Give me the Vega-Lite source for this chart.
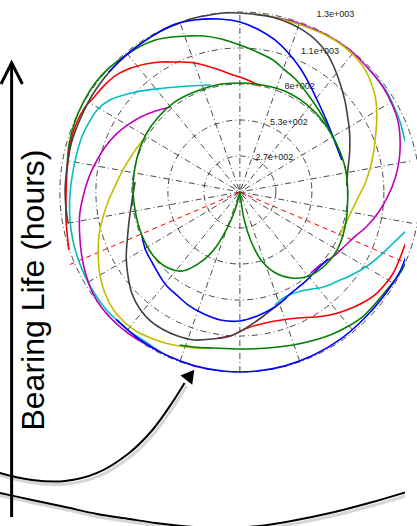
{
"$schema":"https://vega.github.io/schema/vega-lite/v6.json",
"width":417,"height":526,
"autosize":{"type":"fit","contains":"padding"},
"padding":0,
"background":"white",
"config":{"view":{"stroke":null}},
"datasets":{
"rings":[{"x":0,"y":0,"r":266.67},{"x":0,"y":0,"r":533.33},{"x":0,"y":0,"r":800},{"x":0,"y":0,"r":1066.67},{"x":0,"y":0,"r":1333.33}],
"spokes":[
{"x":-1313,"y":-231.5,"x2":1313,"y2":231.5},
{"x":-1154.7,"y":-666.7,"x2":1154.7,"y2":666.7},
{"x":-857,"y":-1021.4,"x2":857,"y2":1021.4},
{"x":-456,"y":-1252.9,"x2":456,"y2":1252.9},
{"x":0,"y":-1333.3,"x2":0,"y2":1333.3},
{"x":456,"y":-1252.9,"x2":-456,"y2":1252.9},
{"x":857,"y":-1021.4,"x2":-857,"y2":1021.4},
{"x":1154.7,"y":-666.7,"x2":-1154.7,"y2":666.7},
{"x":1313,"y":-231.5,"x2":-1313,"y2":231.5}],
"zone":[{"x":0,"y":0,"x2":-1328,"y2":-550},{"x":0,"y":0,"x2":1328,"y2":-550}],
"labels":[{"label":"2.7e+002","x":119,"y":259},{"label":"5.3e+002","x":230,"y":519},{"label":"8e+002","x":341,"y":785},{"label":"1.1e+003","x":467,"y":1044},{"label":"1.3e+003","x":585,"y":1319}],
"curves":[
{"c":"cy","s":"C1","i":0,"x":-222,"y":793},{"c":"cy","s":"C1","i":1,"x":-385,"y":785},{"c":"cy","s":"C1","i":2,"x":-570,"y":770},{"c":"cy","s":"C1","i":3,"x":-793,"y":741},{"c":"cy","s":"C1","i":4,"x":-993,"y":681},{"c":"cy","s":"C1","i":5,"x":-1089,"y":607},{"c":"cy","s":"C1","i":6,"x":-1141,"y":533},{"c":"cy","s":"C1","i":7,"x":-1200,"y":422},{"c":"cy","s":"C1","i":8,"x":-1237,"y":311},{"c":"cy","s":"C1","i":9,"x":-1274,"y":148},{"c":"cy","s":"C1","i":10,"x":-1296,"y":-22},{"c":"cy","s":"C1","i":11,"x":-1296,"y":-207},{"c":"cy","s":"C1","i":12,"x":-1274,"y":-356},{"c":"cy","s":"C1","i":13,"x":-1237,"y":-489},{"c":"cy","s":"C1","i":14,"x":-1178,"y":-630},{"c":"cy","s":"C1","i":15,"x":-1111,"y":-748},{"c":"cy","s":"C1","i":16,"x":-1030,"y":-859},{"c":"cy","s":"C1","i":17,"x":-941,"y":-948},{"c":"cy","s":"C1","i":18,"x":-844,"y":-1030},{"c":"cy","s":"C1","i":19,"x":-741,"y":-1096},{"c":"cy","s":"C1","i":20,"x":-630,"y":-1170},
{"c":"cy","s":"C2","i":0,"x":267,"y":-837},{"c":"cy","s":"C2","i":1,"x":319,"y":-793},{"c":"cy","s":"C2","i":2,"x":393,"y":-756},{"c":"cy","s":"C2","i":3,"x":504,"y":-726},{"c":"cy","s":"C2","i":4,"x":637,"y":-704},{"c":"cy","s":"C2","i":5,"x":748,"y":-659},{"c":"cy","s":"C2","i":6,"x":852,"y":-615},{"c":"cy","s":"C2","i":7,"x":970,"y":-548},{"c":"cy","s":"C2","i":8,"x":1074,"y":-467},{"c":"cy","s":"C2","i":9,"x":1163,"y":-385},{"c":"cy","s":"C2","i":10,"x":1259,"y":-296},{"c":"cy","s":"C2","i":11,"x":1326,"y":-237},
{"c":"cy","s":"C3","i":0,"x":1326,"y":200},{"c":"cy","s":"C3","i":1,"x":1259,"y":385},{"c":"cy","s":"C3","i":2,"x":1222,"y":519},{"c":"cy","s":"C3","i":3,"x":1170,"y":644},{"c":"cy","s":"C3","i":4,"x":1111,"y":756},{"c":"cy","s":"C3","i":5,"x":1044,"y":844},{"c":"cy","s":"C3","i":6,"x":970,"y":926},
{"c":"mg","s":"M1","i":0,"x":-533,"y":630},{"c":"mg","s":"M1","i":1,"x":-644,"y":600},{"c":"mg","s":"M1","i":2,"x":-756,"y":556},{"c":"mg","s":"M1","i":3,"x":-844,"y":504},{"c":"mg","s":"M1","i":4,"x":-941,"y":430},{"c":"mg","s":"M1","i":5,"x":-1022,"y":341},{"c":"mg","s":"M1","i":6,"x":-1089,"y":237},{"c":"mg","s":"M1","i":7,"x":-1148,"y":119},{"c":"mg","s":"M1","i":8,"x":-1193,"y":-22},{"c":"mg","s":"M1","i":9,"x":-1222,"y":-170},{"c":"mg","s":"M1","i":10,"x":-1222,"y":-319},{"c":"mg","s":"M1","i":11,"x":-1207,"y":-467},{"c":"mg","s":"M1","i":12,"x":-1178,"y":-600},{"c":"mg","s":"M1","i":13,"x":-1126,"y":-741},{"c":"mg","s":"M1","i":14,"x":-1052,"y":-859},{"c":"mg","s":"M1","i":15,"x":-956,"y":-963},{"c":"mg","s":"M1","i":16,"x":-844,"y":-1052},{"c":"mg","s":"M1","i":17,"x":-719,"y":-1126},{"c":"mg","s":"M1","i":18,"x":-607,"y":-1185},
{"c":"mg","s":"M2","i":0,"x":541,"y":-600},{"c":"mg","s":"M2","i":1,"x":593,"y":-556},{"c":"mg","s":"M2","i":2,"x":659,"y":-511},{"c":"mg","s":"M2","i":3,"x":726,"y":-467},{"c":"mg","s":"M2","i":4,"x":800,"y":-400},{"c":"mg","s":"M2","i":5,"x":874,"y":-333},{"c":"mg","s":"M2","i":6,"x":963,"y":-259},{"c":"mg","s":"M2","i":7,"x":1059,"y":-148},{"c":"mg","s":"M2","i":8,"x":1133,"y":-22},{"c":"mg","s":"M2","i":9,"x":1185,"y":104},{"c":"mg","s":"M2","i":10,"x":1215,"y":237},{"c":"mg","s":"M2","i":11,"x":1222,"y":385},{"c":"mg","s":"M2","i":12,"x":1207,"y":519},{"c":"mg","s":"M2","i":13,"x":1163,"y":644},{"c":"mg","s":"M2","i":14,"x":1096,"y":770},{"c":"mg","s":"M2","i":15,"x":1022,"y":867},{"c":"mg","s":"M2","i":16,"x":933,"y":963},{"c":"mg","s":"M2","i":17,"x":837,"y":1052},{"c":"mg","s":"M2","i":18,"x":726,"y":1126},{"c":"mg","s":"M2","i":19,"x":615,"y":1185},{"c":"mg","s":"M2","i":20,"x":504,"y":1230},{"c":"mg","s":"M2","i":21,"x":393,"y":1267},{"c":"mg","s":"M2","i":22,"x":244,"y":1296},
{"c":"yl","s":"Y1","i":0,"x":-719,"y":407},{"c":"yl","s":"Y1","i":1,"x":-770,"y":348},{"c":"yl","s":"Y1","i":2,"x":-822,"y":274},{"c":"yl","s":"Y1","i":3,"x":-881,"y":185},{"c":"yl","s":"Y1","i":4,"x":-941,"y":67},{"c":"yl","s":"Y1","i":5,"x":-1000,"y":-59},{"c":"yl","s":"Y1","i":6,"x":-1044,"y":-185},{"c":"yl","s":"Y1","i":7,"x":-1074,"y":-319},{"c":"yl","s":"Y1","i":8,"x":-1081,"y":-467},{"c":"yl","s":"Y1","i":9,"x":-1067,"y":-615},{"c":"yl","s":"Y1","i":10,"x":-1030,"y":-748},{"c":"yl","s":"Y1","i":11,"x":-963,"y":-874},{"c":"yl","s":"Y1","i":12,"x":-881,"y":-963},{"c":"yl","s":"Y1","i":13,"x":-793,"y":-1030},{"c":"yl","s":"Y1","i":14,"x":-681,"y":-1081},{"c":"yl","s":"Y1","i":15,"x":-570,"y":-1118},{"c":"yl","s":"Y1","i":16,"x":-459,"y":-1141},{"c":"yl","s":"Y1","i":17,"x":-348,"y":-1156},{"c":"yl","s":"Y1","i":18,"x":-237,"y":-1156},
{"c":"yl","s":"Y2","i":0,"x":763,"y":-311},{"c":"yl","s":"Y2","i":1,"x":815,"y":-215},{"c":"yl","s":"Y2","i":2,"x":859,"y":-126},{"c":"yl","s":"Y2","i":3,"x":904,"y":-37},{"c":"yl","s":"Y2","i":4,"x":956,"y":67},{"c":"yl","s":"Y2","i":5,"x":1000,"y":200},{"c":"yl","s":"Y2","i":6,"x":1022,"y":311},{"c":"yl","s":"Y2","i":7,"x":1037,"y":437},{"c":"yl","s":"Y2","i":8,"x":1044,"y":548},{"c":"yl","s":"Y2","i":9,"x":1037,"y":681},{"c":"yl","s":"Y2","i":10,"x":1007,"y":793},{"c":"yl","s":"Y2","i":11,"x":956,"y":904},{"c":"yl","s":"Y2","i":12,"x":881,"y":1000},{"c":"yl","s":"Y2","i":13,"x":778,"y":1089},{"c":"yl","s":"Y2","i":14,"x":652,"y":1163},{"c":"yl","s":"Y2","i":15,"x":526,"y":1215},{"c":"yl","s":"Y2","i":16,"x":393,"y":1259},{"c":"yl","s":"Y2","i":17,"x":244,"y":1296},{"c":"yl","s":"Y2","i":18,"x":111,"y":1318},
{"c":"g1","s":"G1","i":0,"x":-1318,"y":163},{"c":"g1","s":"G1","i":1,"x":-1304,"y":348},{"c":"g1","s":"G1","i":2,"x":-1259,"y":519},{"c":"g1","s":"G1","i":3,"x":-1193,"y":667},{"c":"g1","s":"G1","i":4,"x":-1104,"y":807},{"c":"g1","s":"G1","i":5,"x":-1000,"y":918},{"c":"g1","s":"G1","i":6,"x":-889,"y":1000},{"c":"g1","s":"G1","i":7,"x":-770,"y":1074},{"c":"g1","s":"G1","i":8,"x":-644,"y":1126},{"c":"g1","s":"G1","i":9,"x":-518,"y":1148},{"c":"g1","s":"G1","i":10,"x":-400,"y":1156},{"c":"g1","s":"G1","i":11,"x":-274,"y":1156},{"c":"g1","s":"G1","i":12,"x":-141,"y":1133},{"c":"g1","s":"G1","i":13,"x":22,"y":1081},{"c":"g1","s":"G1","i":14,"x":148,"y":1030},{"c":"g1","s":"G1","i":15,"x":252,"y":978},{"c":"g1","s":"G1","i":16,"x":341,"y":904},{"c":"g1","s":"G1","i":17,"x":430,"y":830},{"c":"g1","s":"G1","i":18,"x":504,"y":741},{"c":"g1","s":"G1","i":19,"x":615,"y":585},{"c":"g1","s":"G1","i":20,"x":711,"y":407},{"c":"g1","s":"G1","i":21,"x":778,"y":237},
{"c":"g1","s":"G2","i":0,"x":-459,"y":-1133},{"c":"g1","s":"G2","i":1,"x":-348,"y":-1148},{"c":"g1","s":"G2","i":2,"x":-200,"y":-1156},{"c":"g1","s":"G2","i":3,"x":0,"y":-1163},{"c":"g1","s":"G2","i":4,"x":207,"y":-1156},{"c":"g1","s":"G2","i":5,"x":444,"y":-1126},{"c":"g1","s":"G2","i":6,"x":689,"y":-1059},{"c":"g1","s":"G2","i":7,"x":815,"y":-1000},{"c":"g1","s":"G2","i":8,"x":933,"y":-926},{"c":"g1","s":"G2","i":9,"x":1037,"y":-822},{"c":"g1","s":"G2","i":10,"x":1133,"y":-711},{"c":"g1","s":"G2","i":11,"x":1200,"y":-630},{"c":"g1","s":"G2","i":12,"x":1262,"y":-530},{"c":"g1","s":"G2","i":13,"x":1315,"y":-420},
{"c":"rd","s":"R1","i":0,"x":-1304,"y":-430},{"c":"rd","s":"R1","i":1,"x":-1326,"y":-207},{"c":"rd","s":"R1","i":2,"x":-1326,"y":-22},{"c":"rd","s":"R1","i":3,"x":-1318,"y":163},{"c":"rd","s":"R1","i":4,"x":-1296,"y":348},{"c":"rd","s":"R1","i":5,"x":-1252,"y":496},{"c":"rd","s":"R1","i":6,"x":-1185,"y":622},{"c":"rd","s":"R1","i":7,"x":-1111,"y":704},{"c":"rd","s":"R1","i":8,"x":-1030,"y":793},{"c":"rd","s":"R1","i":9,"x":-941,"y":867},{"c":"rd","s":"R1","i":10,"x":-830,"y":918},{"c":"rd","s":"R1","i":11,"x":-719,"y":948},{"c":"rd","s":"R1","i":12,"x":-607,"y":963},{"c":"rd","s":"R1","i":13,"x":-496,"y":963},{"c":"rd","s":"R1","i":14,"x":-348,"y":956},{"c":"rd","s":"R1","i":15,"x":-200,"y":918},{"c":"rd","s":"R1","i":16,"x":-52,"y":867},{"c":"rd","s":"R1","i":17,"x":59,"y":830},{"c":"rd","s":"R1","i":18,"x":156,"y":785},
{"c":"rd","s":"R2","i":0,"x":-163,"y":-1081},{"c":"rd","s":"R2","i":1,"x":-74,"y":-1067},{"c":"rd","s":"R2","i":2,"x":59,"y":-1007},{"c":"rd","s":"R2","i":3,"x":193,"y":-970},{"c":"rd","s":"R2","i":4,"x":319,"y":-948},{"c":"rd","s":"R2","i":5,"x":444,"y":-933},{"c":"rd","s":"R2","i":6,"x":578,"y":-926},{"c":"rd","s":"R2","i":7,"x":689,"y":-911},{"c":"rd","s":"R2","i":8,"x":815,"y":-874},{"c":"rd","s":"R2","i":9,"x":933,"y":-822},{"c":"rd","s":"R2","i":10,"x":1037,"y":-756},{"c":"rd","s":"R2","i":11,"x":1111,"y":-680},{"c":"rd","s":"R2","i":12,"x":1170,"y":-600},{"c":"rd","s":"R2","i":13,"x":1215,"y":-504},{"c":"rd","s":"R2","i":14,"x":1259,"y":-393},{"c":"rd","s":"R2","i":15,"x":1304,"y":-296},
{"c":"bk","s":"K1","i":0,"x":815,"y":44},{"c":"bk","s":"K1","i":1,"x":822,"y":148},{"c":"bk","s":"K1","i":2,"x":837,"y":296},{"c":"bk","s":"K1","i":3,"x":837,"y":437},{"c":"bk","s":"K1","i":4,"x":822,"y":556},{"c":"bk","s":"K1","i":5,"x":800,"y":681},{"c":"bk","s":"K1","i":6,"x":763,"y":807},{"c":"bk","s":"K1","i":7,"x":711,"y":941},{"c":"bk","s":"K1","i":8,"x":652,"y":1044},{"c":"bk","s":"K1","i":9,"x":578,"y":1126},{"c":"bk","s":"K1","i":10,"x":489,"y":1193},{"c":"bk","s":"K1","i":11,"x":393,"y":1244},{"c":"bk","s":"K1","i":12,"x":244,"y":1296},{"c":"bk","s":"K1","i":13,"x":96,"y":1318},{"c":"bk","s":"K1","i":14,"x":0,"y":1326},{"c":"bk","s":"K1","i":15,"x":-126,"y":1326},{"c":"bk","s":"K1","i":16,"x":-230,"y":1311},{"c":"bk","s":"K1","i":17,"x":-348,"y":1289},{"c":"bk","s":"K1","i":18,"x":-459,"y":1252},{"c":"bk","s":"K1","i":19,"x":-570,"y":1207},{"c":"bk","s":"K1","i":20,"x":-667,"y":1156},{"c":"bk","s":"K1","i":21,"x":-770,"y":1089},{"c":"bk","s":"K1","i":22,"x":-859,"y":1022},{"c":"bk","s":"K1","i":23,"x":-948,"y":941},{"c":"bk","s":"K1","i":24,"x":-1022,"y":859},{"c":"bk","s":"K1","i":25,"x":-1096,"y":763},{"c":"bk","s":"K1","i":26,"x":-1156,"y":667},{"c":"bk","s":"K1","i":27,"x":-1207,"y":563},{"c":"bk","s":"K1","i":28,"x":-1252,"y":459},{"c":"bk","s":"K1","i":29,"x":-1289,"y":348},{"c":"bk","s":"K1","i":30,"x":-1311,"y":230},{"c":"bk","s":"K1","i":31,"x":-1326,"y":119},{"c":"bk","s":"K1","i":32,"x":-1333,"y":0},{"c":"bk","s":"K1","i":33,"x":-1326,"y":-119},{"c":"bk","s":"K1","i":34,"x":-1311,"y":-230},
{"c":"bk","s":"K2","i":0,"x":-800,"y":74},{"c":"bk","s":"K2","i":1,"x":-822,"y":-59},{"c":"bk","s":"K2","i":2,"x":-844,"y":-207},{"c":"bk","s":"K2","i":3,"x":-859,"y":-356},{"c":"bk","s":"K2","i":4,"x":-867,"y":-489},{"c":"bk","s":"K2","i":5,"x":-852,"y":-630},{"c":"bk","s":"K2","i":6,"x":-822,"y":-756},{"c":"bk","s":"K2","i":7,"x":-763,"y":-867},{"c":"bk","s":"K2","i":8,"x":-681,"y":-956},{"c":"bk","s":"K2","i":9,"x":-593,"y":-1015},{"c":"bk","s":"K2","i":10,"x":-474,"y":-1067},{"c":"bk","s":"K2","i":11,"x":-348,"y":-1096},{"c":"bk","s":"K2","i":12,"x":-215,"y":-1089},{"c":"bk","s":"K2","i":13,"x":-74,"y":-1067},{"c":"bk","s":"K2","i":14,"x":59,"y":-1000},{"c":"bk","s":"K2","i":15,"x":170,"y":-926},{"c":"bk","s":"K2","i":16,"x":267,"y":-852},{"c":"bk","s":"K2","i":17,"x":356,"y":-785},
{"c":"bl","s":"B1","i":0,"x":778,"y":237},{"c":"bl","s":"B1","i":1,"x":711,"y":407},{"c":"bl","s":"B1","i":2,"x":659,"y":533},{"c":"bl","s":"B1","i":3,"x":600,"y":659},{"c":"bl","s":"B1","i":4,"x":526,"y":807},{"c":"bl","s":"B1","i":5,"x":459,"y":918},{"c":"bl","s":"B1","i":6,"x":370,"y":1030},{"c":"bl","s":"B1","i":7,"x":267,"y":1126},{"c":"bl","s":"B1","i":8,"x":148,"y":1200},{"c":"bl","s":"B1","i":9,"x":0,"y":1259},{"c":"bl","s":"B1","i":10,"x":-163,"y":1281},{"c":"bl","s":"B1","i":11,"x":-348,"y":1274},{"c":"bl","s":"B1","i":12,"x":-511,"y":1237},{"c":"bl","s":"B1","i":13,"x":-667,"y":1156},{"c":"bl","s":"B1","i":14,"x":-859,"y":1022},{"c":"bl","s":"B1","i":15,"x":-1000,"y":889},
{"c":"bl","s":"B2","i":0,"x":-943,"y":-943},{"c":"bl","s":"B2","i":1,"x":-765,"y":-1092},{"c":"bl","s":"B2","i":2,"x":-563,"y":-1208},{"c":"bl","s":"B2","i":3,"x":-345,"y":-1288},{"c":"bl","s":"B2","i":4,"x":-116,"y":-1328},{"c":"bl","s":"B2","i":5,"x":116,"y":-1328},{"c":"bl","s":"B2","i":6,"x":345,"y":-1288},{"c":"bl","s":"B2","i":7,"x":563,"y":-1208},{"c":"bl","s":"B2","i":8,"x":765,"y":-1092},{"c":"bl","s":"B2","i":9,"x":943,"y":-943},{"c":"bl","s":"B2","i":10,"x":1092,"y":-778},{"c":"bl","s":"B2","i":11,"x":1215,"y":-600},{"c":"bl","s":"B2","i":12,"x":1270,"y":-470},{"c":"bl","s":"B2","i":13,"x":1320,"y":-330},
{"c":"bl","s":"B3","i":0,"x":-748,"y":-319},{"c":"bl","s":"B3","i":1,"x":-719,"y":-430},{"c":"bl","s":"B3","i":2,"x":-667,"y":-526},{"c":"bl","s":"B3","i":3,"x":-570,"y":-681},{"c":"bl","s":"B3","i":4,"x":-474,"y":-770},{"c":"bl","s":"B3","i":5,"x":-385,"y":-844},{"c":"bl","s":"B3","i":6,"x":-274,"y":-904},{"c":"bl","s":"B3","i":7,"x":-148,"y":-948},{"c":"bl","s":"B3","i":8,"x":0,"y":-956},{"c":"bl","s":"B3","i":9,"x":133,"y":-918},{"c":"bl","s":"B3","i":10,"x":267,"y":-852},{"c":"bl","s":"B3","i":11,"x":393,"y":-748},{"c":"bl","s":"B3","i":12,"x":504,"y":-659},{"c":"bl","s":"B3","i":13,"x":593,"y":-570},{"c":"bl","s":"B3","i":14,"x":674,"y":-496},
{"c":"g2","s":"G3","i":0,"x":0,"y":0},{"c":"g2","s":"G3","i":1,"x":30,"y":-193},{"c":"g2","s":"G3","i":2,"x":81,"y":-356},{"c":"g2","s":"G3","i":3,"x":156,"y":-496},{"c":"g2","s":"G3","i":4,"x":259,"y":-593},{"c":"g2","s":"G3","i":5,"x":393,"y":-637},{"c":"g2","s":"G3","i":6,"x":526,"y":-622},{"c":"g2","s":"G3","i":7,"x":644,"y":-548},{"c":"g2","s":"G3","i":8,"x":741,"y":-430},{"c":"g2","s":"G3","i":9,"x":800,"y":-267},{"c":"g2","s":"G3","i":10,"x":822,"y":-59},{"c":"g2","s":"G3","i":11,"x":807,"y":163},{"c":"g2","s":"G3","i":12,"x":741,"y":348},{"c":"g2","s":"G3","i":13,"x":637,"y":519},{"c":"g2","s":"G3","i":14,"x":504,"y":652},{"c":"g2","s":"G3","i":15,"x":341,"y":748},{"c":"g2","s":"G3","i":16,"x":170,"y":793},{"c":"g2","s":"G3","i":17,"x":0,"y":807},{"c":"g2","s":"G3","i":18,"x":-178,"y":793},{"c":"g2","s":"G3","i":19,"x":-348,"y":741},{"c":"g2","s":"G3","i":20,"x":-496,"y":667},{"c":"g2","s":"G3","i":21,"x":-622,"y":556},{"c":"g2","s":"G3","i":22,"x":-719,"y":422},{"c":"g2","s":"G3","i":23,"x":-785,"y":252},{"c":"g2","s":"G3","i":24,"x":-815,"y":52},{"c":"g2","s":"G3","i":25,"x":-800,"y":-133},{"c":"g2","s":"G3","i":26,"x":-748,"y":-319},{"c":"g2","s":"G3","i":27,"x":-659,"y":-474},{"c":"g2","s":"G3","i":28,"x":-548,"y":-563},{"c":"g2","s":"G3","i":29,"x":-437,"y":-585},{"c":"g2","s":"G3","i":30,"x":-319,"y":-533},{"c":"g2","s":"G3","i":31,"x":-200,"y":-430},{"c":"g2","s":"G3","i":32,"x":-104,"y":-281},{"c":"g2","s":"G3","i":33,"x":-37,"y":-133},{"c":"g2","s":"G3","i":34,"x":0,"y":0}
],
"ink":[
{"s":"curve","i":0,"x":-1867,"y":-2067},{"s":"curve","i":1,"x":-1830,"y":-2081},{"s":"curve","i":2,"x":-1585,"y":-2133},{"s":"curve","i":3,"x":-1333,"y":-2141},{"s":"curve","i":4,"x":-1089,"y":-2081},{"s":"curve","i":5,"x":-844,"y":-1933},{"s":"curve","i":6,"x":-667,"y":-1763},{"s":"curve","i":7,"x":-518,"y":-1563},{"s":"curve","i":8,"x":-422,"y":-1415},
{"s":"arc","i":0,"x":-1867,"y":-2222},{"s":"arc","i":1,"x":-1585,"y":-2281},{"s":"arc","i":2,"x":-1333,"y":-2333},{"s":"arc","i":3,"x":-1089,"y":-2385},{"s":"arc","i":4,"x":-844,"y":-2422},{"s":"arc","i":5,"x":-644,"y":-2452},{"s":"arc","i":6,"x":-444,"y":-2474},{"s":"arc","i":7,"x":-237,"y":-2489},{"s":"arc","i":8,"x":-52,"y":-2489},{"s":"arc","i":9,"x":148,"y":-2474},{"s":"arc","i":10,"x":393,"y":-2437},{"s":"arc","i":11,"x":689,"y":-2378},{"s":"arc","i":12,"x":985,"y":-2304},{"s":"arc","i":13,"x":1296,"y":-2215}
],
"axisarrow":[
{"s":"shaft","i":0,"x":-1741,"y":-2407},{"s":"shaft","i":1,"x":-1741,"y":956},
{"s":"head","i":0,"x":-1822,"y":800},{"s":"head","i":1,"x":-1741,"y":956},{"s":"head","i":2,"x":-1659,"y":800}
],
"tip":[{"x":-378,"y":-1355}],
"title":[{"text":"Bearing Life (hours)","x":-1496,"y":-726}]
},
"encoding":{
"x":{"field":"x","type":"quantitative","scale":{"domain":[-1829.6,1259.3],"nice":false,"zero":false},"axis":null},
"y":{"field":"y","type":"quantitative","scale":{"domain":[-2474.1,1422.2],"nice":false,"zero":false},"axis":null}
},
"layer":[
{"data":{"name":"rings"},"mark":{"type":"point","shape":"circle","filled":false,"stroke":"#333333","strokeWidth":0.9,"strokeDash":[6,3,1,3],"opacity":1},
 "encoding":{"size":{"field":"r","type":"quantitative","scale":{"type":"pow","exponent":2,"domain":[0,1333.33],"range":[0,129600],"zero":true},"legend":null}}},
{"data":{"name":"spokes"},"mark":{"type":"rule","stroke":"#333333","strokeWidth":0.9,"strokeDash":[6,3,1,3]},
 "encoding":{"x2":{"field":"x2"},"y2":{"field":"y2"}}},
{"data":{"name":"zone"},"mark":{"type":"rule","stroke":"#FF0000","strokeWidth":1,"strokeDash":[5,4],"clip":true},
 "encoding":{"x2":{"field":"x2"},"y2":{"field":"y2"}}},
{"data":{"name":"labels"},"mark":{"type":"text","align":"left","baseline":"middle","fontSize":9,"font":"Liberation Sans","color":"#222222"},
 "encoding":{"text":{"field":"label"}}},
{"data":{"name":"curves"},"transform":[{"filter":{"field":"c","equal":"cy"}}],"mark":{"type":"line","interpolate":"catmull-rom","color":"#00BFBF","strokeWidth":1.6,"clip":true},"encoding":{"detail":{"field":"s"},"order":{"field":"i","type":"quantitative"}}},
{"data":{"name":"curves"},"transform":[{"filter":{"field":"c","equal":"mg"}}],"mark":{"type":"line","interpolate":"catmull-rom","color":"#BF00BF","strokeWidth":1.6,"clip":true},"encoding":{"detail":{"field":"s"},"order":{"field":"i","type":"quantitative"}}},
{"data":{"name":"curves"},"transform":[{"filter":{"field":"c","equal":"yl"}}],"mark":{"type":"line","interpolate":"catmull-rom","color":"#BFBF00","strokeWidth":1.6,"clip":true},"encoding":{"detail":{"field":"s"},"order":{"field":"i","type":"quantitative"}}},
{"data":{"name":"curves"},"transform":[{"filter":{"field":"c","equal":"g1"}}],"mark":{"type":"line","interpolate":"catmull-rom","color":"#008000","strokeWidth":1.6,"clip":true},"encoding":{"detail":{"field":"s"},"order":{"field":"i","type":"quantitative"}}},
{"data":{"name":"curves"},"transform":[{"filter":{"field":"c","equal":"rd"}}],"mark":{"type":"line","interpolate":"catmull-rom","color":"#FF0000","strokeWidth":1.6,"clip":true},"encoding":{"detail":{"field":"s"},"order":{"field":"i","type":"quantitative"}}},
{"data":{"name":"curves"},"transform":[{"filter":{"field":"c","equal":"bk"}}],"mark":{"type":"line","interpolate":"catmull-rom","color":"#404040","strokeWidth":1.6,"clip":true},"encoding":{"detail":{"field":"s"},"order":{"field":"i","type":"quantitative"}}},
{"data":{"name":"curves"},"transform":[{"filter":{"field":"c","equal":"bl"}}],"mark":{"type":"line","interpolate":"catmull-rom","color":"#0000FF","strokeWidth":1.6,"clip":true},"encoding":{"detail":{"field":"s"},"order":{"field":"i","type":"quantitative"}}},
{"data":{"name":"curves"},"transform":[{"filter":{"field":"c","equal":"g2"}}],"mark":{"type":"line","interpolate":"catmull-rom","color":"#008000","strokeWidth":1.6,"clip":true},"encoding":{"detail":{"field":"s"},"order":{"field":"i","type":"quantitative"}}},
{"data":{"name":"ink"},"mark":{"type":"line","interpolate":"catmull-rom","color":"#999999","opacity":0.4,"strokeWidth":3,"xOffset":2,"yOffset":3,"clip":true},"encoding":{"detail":{"field":"s"},"order":{"field":"i","type":"quantitative"}}},
{"data":{"name":"ink"},"mark":{"type":"line","interpolate":"catmull-rom","color":"#000000","strokeWidth":2,"clip":true},"encoding":{"detail":{"field":"s"},"order":{"field":"i","type":"quantitative"}}},
{"data":{"name":"axisarrow"},"mark":{"type":"line","color":"#000000","strokeWidth":3,"strokeJoin":"miter","clip":true},"encoding":{"detail":{"field":"s"},"order":{"field":"i","type":"quantitative"}}},
{"data":{"name":"tip"},"mark":{"type":"point","shape":"triangle-up","filled":true,"color":"#000000","opacity":1,"size":225,"angle":38}},
{"data":{"name":"title"},"mark":{"type":"text","angle":270,"fontSize":32,"font":"Liberation Sans","align":"center","baseline":"alphabetic","color":"#000000"},"encoding":{"text":{"field":"text"}}}
]
}
